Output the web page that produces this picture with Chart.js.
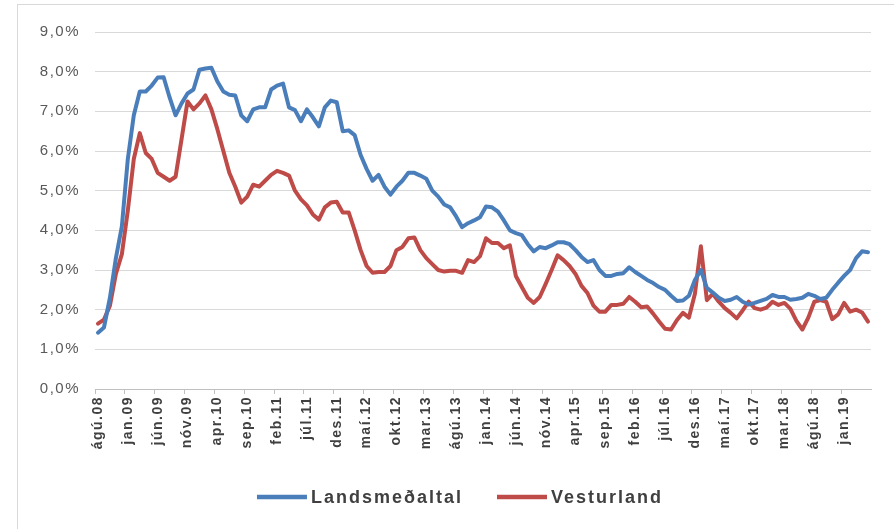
<!DOCTYPE html>
<html>
<head>
<meta charset="utf-8">
<script src="https://cdn.jsdelivr.net/npm/chart.js@4.4.1/dist/chart.umd.min.js"></script>
<style>
  html, body { margin: 0; padding: 0; background: #fff; }
  #wrap { position: relative; width: 894px; height: 529px; overflow: hidden; }
  #frame { position: absolute; left: 17px; top: 4px; width: 900px; height: 600px; border: 1px solid #d9d9d9; box-sizing: border-box; pointer-events: none; }
  canvas { position: absolute; left: 0; top: 0; }
</style>
</head>
<body>
<div id="wrap">
  <div id="frame"></div>
  <canvas id="c" width="894" height="529"></canvas>
</div>
<script>
// ---- data ----
const monthNames = ['jan','feb','mar','apr','maí','jún','júl','ágú','sep','okt','nóv','des'];
const startMonth = 7;   // ágú
const startYear = 2008;
const monthCount = 130; // ágú.08 .. maí.19

const seriesNames = ['Landsmeðaltal', 'Vesturland'];

const landsmedaltal = [
  1.42,1.55,2.3,3.3,4.1,5.8,6.9,7.5,7.5,7.65,
  7.85,7.86,7.35,6.9,7.2,7.45,7.55,8.05,8.08,8.1,
  7.75,7.5,7.42,7.4,6.9,6.75,7.05,7.1,7.1,7.55,
  7.65,7.7,7.1,7.03,6.75,7.05,6.85,6.62,7.1,7.27,
  7.23,6.5,6.52,6.4,5.9,5.55,5.25,5.4,5.1,4.9,
  5.1,5.25,5.45,5.45,5.38,5.3,5.0,4.85,4.65,4.58,
  4.35,4.08,4.18,4.25,4.33,4.6,4.58,4.47,4.25,4.0,
  3.93,3.88,3.65,3.47,3.58,3.55,3.62,3.7,3.7,3.65,
  3.5,3.33,3.2,3.25,3.0,2.85,2.85,2.9,2.92,3.07,
  2.95,2.85,2.75,2.67,2.57,2.5,2.35,2.22,2.23,2.35,
  2.75,3.0,2.55,2.43,2.3,2.22,2.25,2.32,2.2,2.13,
  2.17,2.22,2.27,2.37,2.32,2.32,2.25,2.27,2.3,2.4,
  2.35,2.27,2.3,2.5,2.68,2.85,3.0,3.3,3.47,3.45
];

const vesturland = [
  1.65,1.75,2.1,2.9,3.4,4.5,5.8,6.45,5.95,5.8,
  5.45,5.35,5.25,5.35,6.3,7.25,7.05,7.2,7.4,7.05,
  6.55,6.0,5.45,5.1,4.7,4.85,5.15,5.1,5.25,5.4,
  5.5,5.45,5.38,5.0,4.78,4.63,4.4,4.27,4.58,4.7,
  4.72,4.45,4.45,4.0,3.5,3.1,2.93,2.95,2.95,3.1,
  3.5,3.58,3.8,3.82,3.5,3.3,3.15,3.0,2.96,2.98,
  2.98,2.93,3.25,3.2,3.35,3.8,3.68,3.68,3.55,3.62,
  2.85,2.57,2.3,2.17,2.32,2.65,3.0,3.37,3.25,3.1,
  2.9,2.6,2.42,2.1,1.95,1.95,2.12,2.12,2.15,2.32,
  2.2,2.06,2.08,1.9,1.7,1.52,1.5,1.74,1.92,1.8,
  2.4,3.6,2.24,2.4,2.2,2.04,1.92,1.78,1.98,2.2,
  2.04,2.0,2.05,2.2,2.12,2.17,2.02,1.72,1.5,1.8,
  2.2,2.24,2.2,1.76,1.88,2.17,1.95,2.0,1.93,1.7
];

const yTicks = [0,1,2,3,4,5,6,7,8,9];
const labelEvery = 5;

// build category labels
const categories = [];
for (let i = 0; i < monthCount; i++) {
  const m = (startMonth + i) % 12;
  const y = startYear + Math.floor((startMonth + i) / 12);
  categories.push(monthNames[m] + '.' + String(y % 100).padStart(2, '0'));
}

const colors = ['#4A7EBB', '#BE4B48'];
const FONT = "'Liberation Sans', Arial, sans-serif";

const spacingPlugin = {
  id: 'spacing',
  beforeDraw(chart) { chart.ctx.letterSpacing = '1.5px'; },
  afterDraw(chart) { chart.ctx.letterSpacing = '0px'; }
};

const legendPlugin = {
  id: 'customLegend',
  afterDraw(chart) {
    const ctx = chart.ctx;
    const ds = chart.data.datasets;
    ctx.save();
    ctx.letterSpacing = '2px';
    ctx.font = "bold 18px " + FONT;
    const lineLen = 50, gap = 4, itemGap = 34;
    const widths = ds.map(d => lineLen + gap + ctx.measureText(d.label).width);
    const total = widths.reduce((a, b) => a + b, 0) + itemGap * (ds.length - 1);
    let x = 460 - total / 2;
    const y = 497;
    ds.forEach((d, i) => {
      ctx.strokeStyle = d.borderColor;
      ctx.lineWidth = 4.5;
      ctx.beginPath();
      ctx.moveTo(x, y);
      ctx.lineTo(x + lineLen, y);
      ctx.stroke();
      ctx.fillStyle = '#404040';
      ctx.textBaseline = 'middle';
      ctx.textAlign = 'left';
      ctx.fillText(d.label, x + lineLen + gap, y + 1);
      x += widths[i] + itemGap;
    });
    ctx.restore();
    ctx.letterSpacing = '0px';
  }
};

new Chart(document.getElementById('c'), {
  type: 'line',
  data: {
    labels: categories,
    datasets: [
      { label: seriesNames[0], data: landsmedaltal, borderColor: colors[0], backgroundColor: colors[0], borderWidth: 4, pointRadius: 0, tension: 0, borderJoinStyle: 'round', borderCapStyle: 'round' },
      { label: seriesNames[1], data: vesturland, borderColor: colors[1], backgroundColor: colors[1], borderWidth: 4, pointRadius: 0, tension: 0, borderJoinStyle: 'round', borderCapStyle: 'round' }
    ]
  },
  options: {
    responsive: false,
    animation: false,
    events: [],
    layout: { padding: { left: 20, right: 23, top: 32, bottom: 70 } },
    plugins: { legend: { display: false }, tooltip: { enabled: false } },
    scales: {
      x: {
        offset: true,
        grid: {
          drawOnChartArea: false,
          drawTicks: true,
          tickLength: 5,
          offset: true,
          color: (c) => (c.index % labelEvery === 0 || c.index >= monthCount) ? '#bfbfbf' : 'rgba(0,0,0,0)'
        },
        border: { display: true, color: '#bfbfbf', width: 1 },
        ticks: {
          autoSkip: false,
          maxRotation: 90,
          minRotation: 90,
          padding: 2,
          color: '#404040',
          font: { family: FONT, size: 14, weight: 'bold' },
          callback: (v, i) => (i % labelEvery === 0 ? categories[i] : '')
        },
        afterFit: (s) => { s.height = 70; }
      },
      y: {
        min: yTicks[0],
        max: yTicks[yTicks.length - 1],
        afterBuildTicks: (s) => { s.ticks = yTicks.map(v => ({ value: v })); },
        grid: { color: '#d9d9d9', drawTicks: false, lineWidth: 1 },
        border: { display: false },
        ticks: {
          padding: 15,
          color: '#595959',
          font: { family: FONT, size: 15 },
          callback: (v) => v.toFixed(1).replace('.', ',') + '%'
        },
        afterFit: (s) => { s.width = 75; }
      }
    }
  },
  plugins: [spacingPlugin, legendPlugin]
});
</script>
</body>
</html>
